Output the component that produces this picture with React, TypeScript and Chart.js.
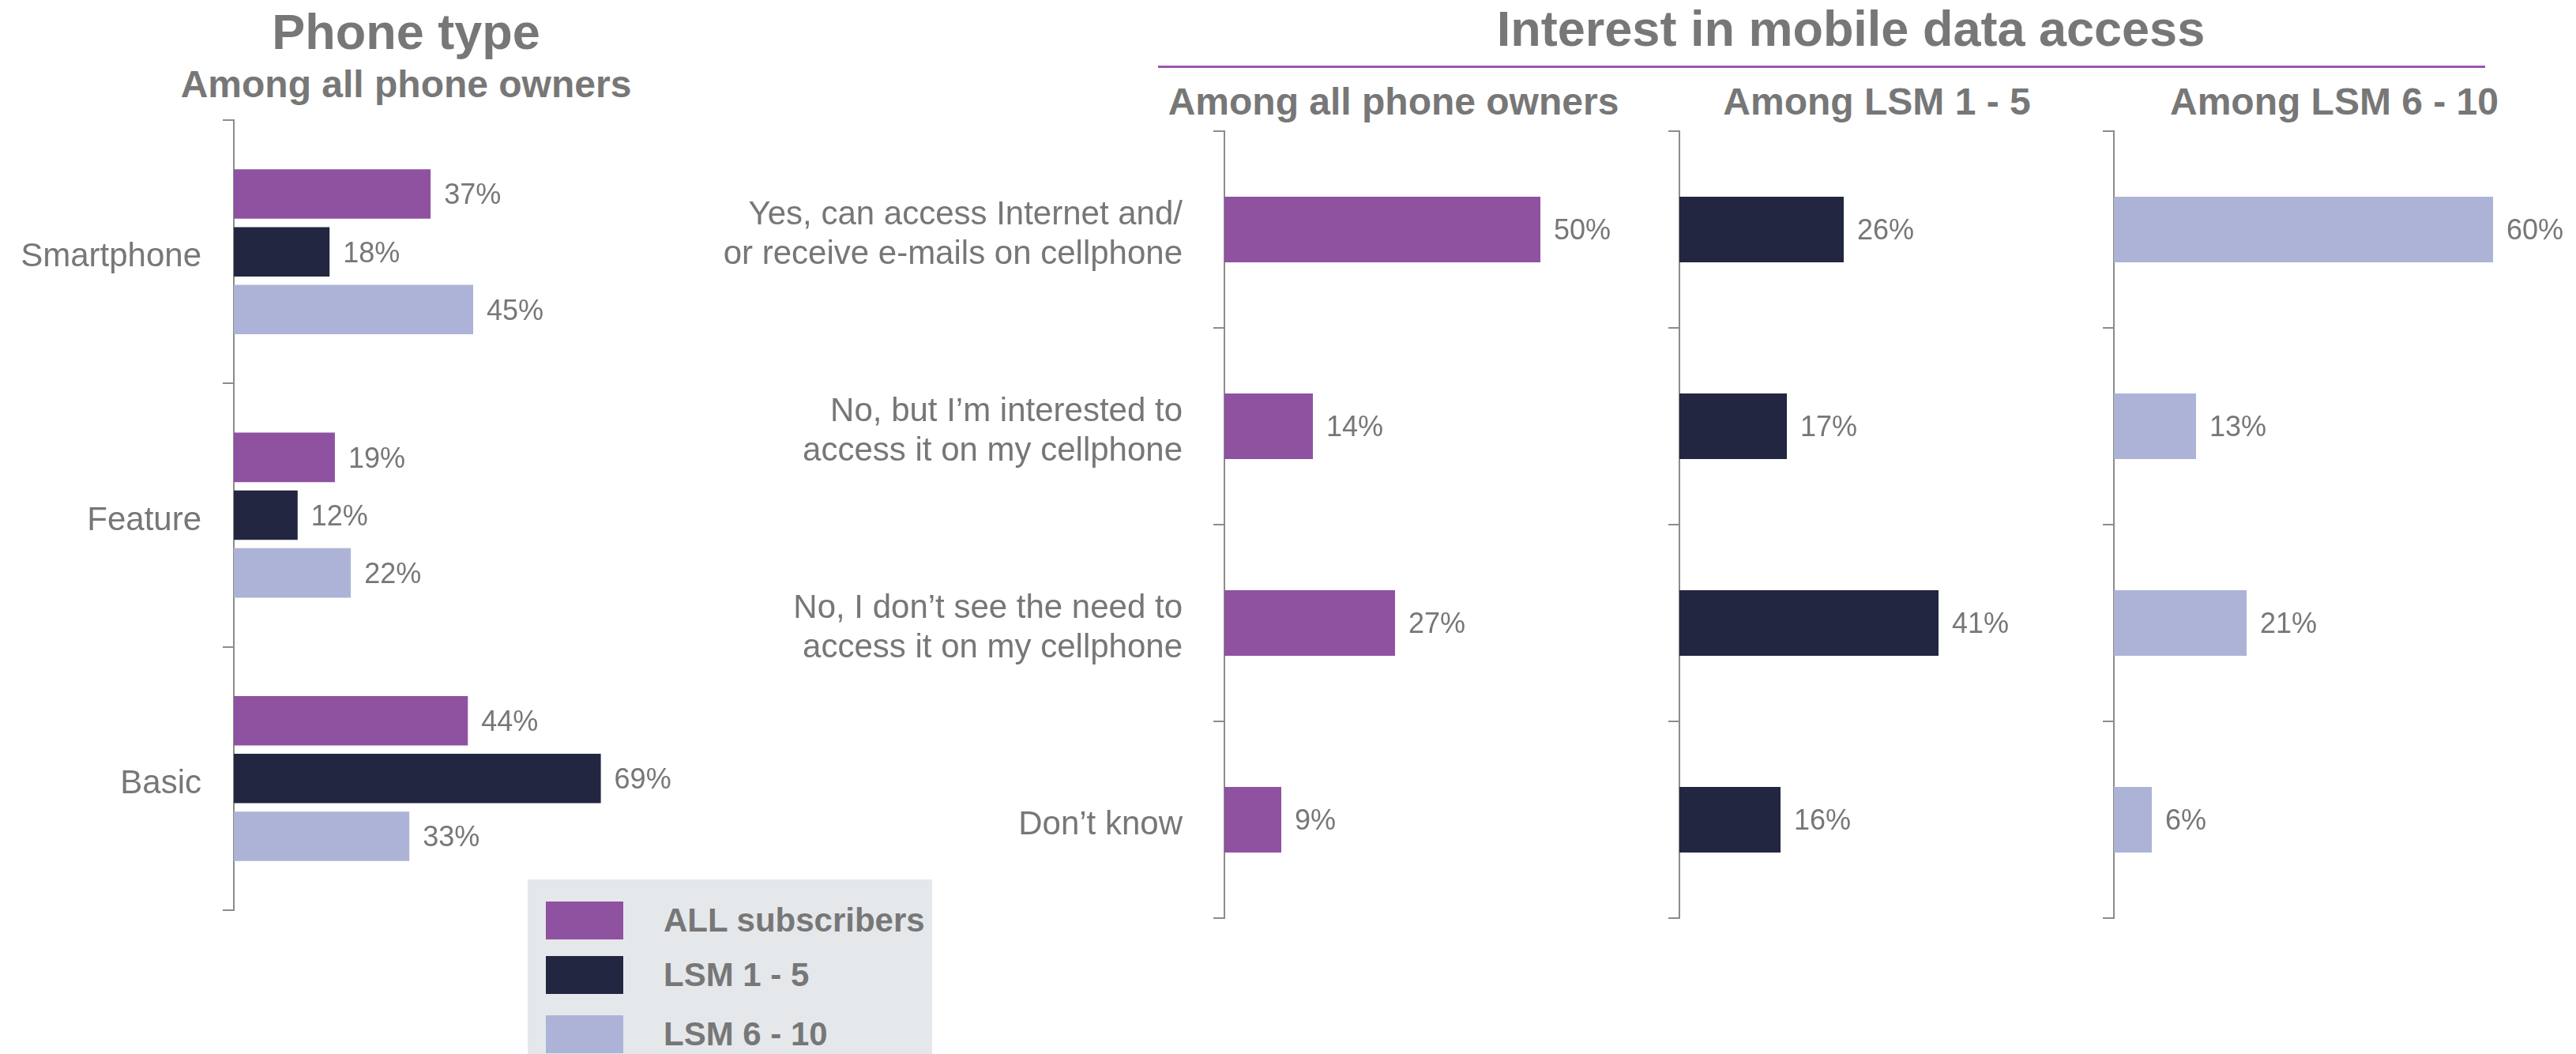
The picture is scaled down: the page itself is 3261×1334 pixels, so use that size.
import React, { useEffect, useRef } from 'react';
import { Chart, registerables } from 'chart.js';

Chart.register(...registerables);

// ---------- data ----------
const phoneCategories = ['Smartphone', 'Feature', 'Basic'];
const phoneAll = [37, 19, 44];
const phoneLsm15 = [18, 12, 69];
const phoneLsm610 = [45, 22, 33];

const interestCategories: (string | string[])[] = [
  ['Yes, can access Internet and/', 'or receive e-mails on cellphone'],
  ['No, but I\u2019m interested to', 'access it on my cellphone'],
  ['No, I don\u2019t see the need to', 'access it on my cellphone'],
  'Don\u2019t know',
];
const interestAll = [50, 14, 27, 9];
const interestLsm15 = [26, 17, 41, 16];
const interestLsm610 = [60, 13, 21, 6];

const seriesNames = ['ALL subscribers', 'LSM 1 - 5', 'LSM 6 - 10'];
const seriesColors = ['#8F52A0', '#222640', '#ADB3D6'];

const panelTitles = ['Among all phone owners', 'Among LSM 1 - 5', 'Among LSM 6 - 10'];

// ---------- style ----------
const FONT = '"Liberation Sans", Arial, Helvetica, sans-serif';
const TEXT = '#777777';
const AXIS = '#8C8C8C';

const valueLabels = {
  id: 'valueLabels',
  afterDatasetsDraw(chart: any) {
    const ctx = chart.ctx;
    ctx.save();
    ctx.font = `36px ${FONT}`;
    ctx.fillStyle = TEXT;
    ctx.textAlign = 'left';
    ctx.textBaseline = 'middle';
    chart.data.datasets.forEach((ds: any, i: number) => {
      const meta = chart.getDatasetMeta(i);
      meta.data.forEach((el: any, j: number) => {
        ctx.fillText(`${ds.data[j]}%`, el.x + 17, el.y + 3);
      });
    });
    ctx.restore();
  },
};

type BuildOpts = {
  labels: (string | string[])[];
  datasets: any[];
  max: number;
  axisWidth: number;
  showLabels: boolean;
  labelPadding: number;
  barPct: number;
  catPct: number;
  padRight: number;
};

function buildConfig(o: BuildOpts): any {
  return {
    type: 'bar',
    data: { labels: o.labels, datasets: o.datasets },
    plugins: [valueLabels],
    options: {
      indexAxis: 'y',
      animation: false,
      responsive: false,
      maintainAspectRatio: false,
      datasets: { bar: { barPercentage: o.barPct, categoryPercentage: o.catPct } },
      layout: { padding: { top: 10, bottom: 10, left: 0, right: o.padRight } },
      plugins: { legend: { display: false }, tooltip: { enabled: false }, title: { display: false } },
      scales: {
        x: { display: false, min: 0, max: o.max },
        y: {
          offset: true,
          grid: {
            display: true,
            offset: true,
            drawOnChartArea: false,
            drawTicks: true,
            tickLength: 14,
            color: AXIS,
            lineWidth: 2,
          },
          border: { display: true, color: AXIS, width: 2 },
          ticks: {
            display: o.showLabels,
            color: TEXT,
            padding: o.labelPadding,
            labelOffset: 7,
            font: { family: FONT, size: 42, lineHeight: 1.2 },
          },
          afterFit: (scale: any) => {
            scale.width = o.axisWidth;
            scale.paddingTop = 0;
            scale.paddingBottom = 0;
          },
        },
      },
    },
  };
}

function ChartCanvas(props: { left: number; top: number; width: number; height: number; build: () => any }) {
  const ref = useRef<HTMLCanvasElement>(null);
  useEffect(() => {
    const chart = new Chart(ref.current as HTMLCanvasElement, props.build());
    return () => chart.destroy();
  }, []);
  return (
    <canvas
      ref={ref}
      width={props.width}
      height={props.height}
      style={{ position: 'absolute', left: props.left, top: props.top, width: props.width, height: props.height }}
    />
  );
}

function TextBlock(props: { cx: number; baseline: number; size: number; bold?: boolean; children: React.ReactNode }) {
  const top = props.baseline - props.size * 0.8465;
  return (
    <div
      style={{
        position: 'absolute',
        left: props.cx - 700,
        width: 1400,
        top,
        textAlign: 'center',
        fontFamily: FONT,
        fontSize: props.size,
        lineHeight: `${props.size}px`,
        fontWeight: props.bold ? 700 : 400,
        color: TEXT,
        whiteSpace: 'nowrap',
      }}
    >
      {props.children}
    </div>
  );
}

export default function App() {
  useEffect(() => {
    document.body.style.margin = '0';
    document.body.style.overflow = 'hidden';
  }, []);

  const phoneSeries = [phoneAll, phoneLsm15, phoneLsm610];
  const interestSeries = [interestAll, interestLsm15, interestLsm610];

  const leftBuild = () =>
    buildConfig({
      labels: phoneCategories,
      datasets: phoneSeries.map((d, i) => ({
        label: seriesNames[i],
        data: d,
        backgroundColor: seriesColors[i],
        borderWidth: 0,
      })),
      max: 90,
      axisWidth: 296,
      showLabels: true,
      labelPadding: 27,
      barPct: 0.856,
      catPct: 0.658,
      padRight: 0,
    });

  const panelLefts = [900, 2066, 2616];
  const panelAxisWidths = [650, 60, 60];
  const panelCenters = [1764, 2376, 2955];

  return (
    <div style={{ position: 'absolute', left: 0, top: 0, width: 3261, height: 1334, overflow: 'hidden', background: '#ffffff' }}>
      {/* Left chart titles */}
      <TextBlock cx={514} baseline={62} size={63} bold>
        Phone type
      </TextBlock>
      <TextBlock cx={514} baseline={124} size={48} bold>
        Among all phone owners
      </TextBlock>

      <ChartCanvas left={0} top={142} width={902} height={1020} build={leftBuild} />

      {/* Right title + rule */}
      <TextBlock cx={2343} baseline={58} size={63} bold>
        Interest in mobile data access
      </TextBlock>
      <div style={{ position: 'absolute', left: 1466, top: 83, width: 1680, height: 3, background: '#9B55AE' }} />

      {interestSeries.map((d, i) => (
        <React.Fragment key={i}>
          <TextBlock cx={panelCenters[i]} baseline={146} size={48} bold>
            {panelTitles[i]}
          </TextBlock>
          <ChartCanvas
            left={panelLefts[i]}
            top={156}
            width={panelAxisWidths[i] + 520 + 60}
            height={1016}
            build={() =>
              buildConfig({
                labels: interestCategories,
                datasets: [
                  { label: seriesNames[i], data: d, backgroundColor: seriesColors[i], borderWidth: 0 },
                ],
                max: 65,
                axisWidth: panelAxisWidths[i],
                showLabels: i === 0,
                labelPadding: 39,
                barPct: 0.334,
                catPct: 1,
                padRight: 60,
              })
            }
          />
        </React.Fragment>
      ))}

      {/* Legend */}
      <div style={{ position: 'absolute', left: 668, top: 1113, width: 512, height: 240, background: '#E5E8EB' }}>
        {seriesNames.map((name, i) => {
          const swTop = [28, 97, 172][i];
          return (
            <React.Fragment key={name}>
              <div style={{ position: 'absolute', left: 23, top: swTop, width: 98, height: 48, background: seriesColors[i] }} />
              <div
                style={{
                  position: 'absolute',
                  left: 172,
                  top: swTop,
                  height: 48,
                  lineHeight: '48px',
                  fontFamily: FONT,
                  fontWeight: 700,
                  fontSize: 42,
                  color: TEXT,
                  whiteSpace: 'nowrap',
                }}
              >
                {name}
              </div>
            </React.Fragment>
          );
        })}
      </div>
    </div>
  );
}
